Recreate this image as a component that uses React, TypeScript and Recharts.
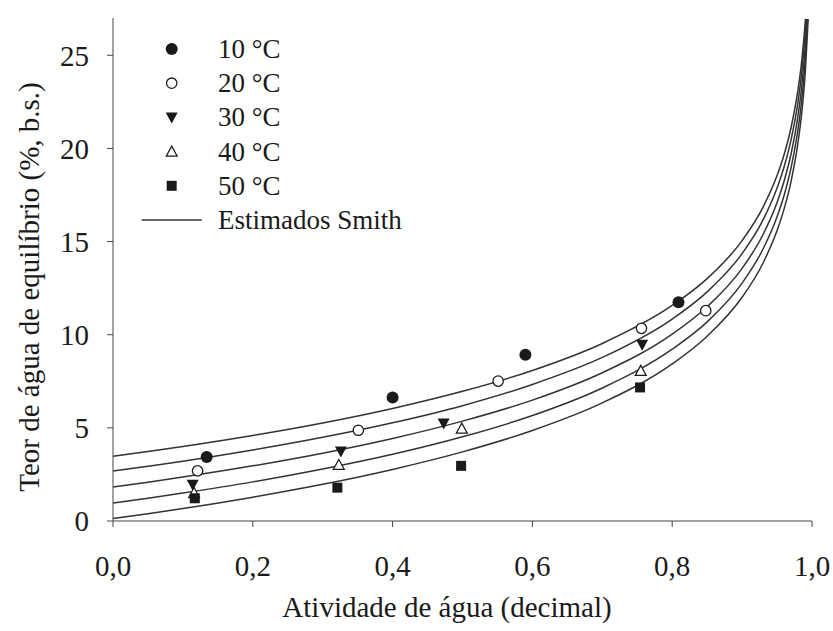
import React from 'react'
import { ComposedChart, Line, Scatter, XAxis, YAxis, Label, Legend } from 'recharts'

// observed points, one pair of arrays per temperature
const aw10 = [0.134, 0.4, 0.59, 0.809]
const teor10 = [3.44, 6.63, 8.92, 11.74]
const aw20 = [0.121, 0.351, 0.551, 0.756, 0.848]
const teor20 = [2.69, 4.87, 7.51, 10.34, 11.29]
const aw30 = [0.114, 0.326, 0.473, 0.757]
const teor30 = [1.94, 3.73, 5.23, 9.46]
const aw40 = [0.116, 0.323, 0.499, 0.755]
const teor40 = [1.5, 3.01, 4.96, 8.06]
const aw50 = [0.117, 0.321, 0.498, 0.754]
const teor50 = [1.22, 1.79, 2.96, 7.17]

// Smith curves (shared aw grid, one row per temperature)
const smithAw = [0, 0.05, 0.1, 0.2, 0.3, 0.4, 0.5, 0.6, 0.7, 0.8, 0.85, 0.9, 0.93, 0.95, 0.96, 0.97, 0.98, 0.985]
const smith10 = [3.47, 3.73, 4.0, 4.59, 5.26, 6.04, 6.96, 8.08, 9.53, 11.57, 13.01, 15.05, 16.85, 18.54, 19.66, 21.11, 23.15, 24.59]
const smith20 = [2.68, 2.94, 3.21, 3.81, 4.49, 5.27, 6.19, 7.33, 8.78, 10.84, 12.3, 14.35, 16.16, 17.87, 19.0, 20.46, 22.51, 23.97]
const smith30 = [1.82, 2.08, 2.36, 2.96, 3.64, 4.43, 5.36, 6.49, 7.96, 10.03, 11.5, 13.56, 15.38, 17.1, 18.24, 19.7, 21.77, 23.24]
const smith40 = [0.96, 1.22, 1.5, 2.1, 2.79, 3.58, 4.52, 5.66, 7.14, 9.22, 10.69, 12.77, 14.6, 16.33, 17.47, 18.95, 21.03, 22.5]
const smith50 = [0.13, 0.39, 0.67, 1.28, 1.97, 2.77, 3.71, 4.86, 6.34, 8.43, 9.92, 12.01, 13.85, 15.59, 16.74, 18.22, 20.32, 21.8]
// where each curve leaves the top of the frame
const smithTailAw = [
  [0.99, 0.9907],
  [0.99, 0.9917],
  [0.99, 0.9927],
  [0.99, 0.9937],
  [0.99, 0.9945],
]
const smithTailTeor = [
  [26.63, 26.95],
  [26.03, 26.95],
  [25.31, 26.95],
  [24.58, 26.95],
  [23.89, 26.95],
]

const xTicks = [0, 0.2, 0.4, 0.6, 0.8, 1]
const yTicks = [0, 5, 10, 15, 20, 25]

type MarkerKind = 'dot' | 'circle' | 'down' | 'up' | 'square' | 'line'

const series: { name: string; marker: MarkerKind; aw: number[]; teor: number[] }[] = [
  { name: '10 °C', marker: 'dot', aw: aw10, teor: teor10 },
  { name: '20 °C', marker: 'circle', aw: aw20, teor: teor20 },
  { name: '30 °C', marker: 'down', aw: aw30, teor: teor30 },
  { name: '40 °C', marker: 'up', aw: aw40, teor: teor40 },
  { name: '50 °C', marker: 'square', aw: aw50, teor: teor50 },
]
// open triangles go underneath the filled markers
const drawOrder = [3, 1, 0, 2, 4]

const curves = [smith10, smith20, smith30, smith40, smith50].map((vals, i) => [
  ...smithAw.map((aw, j) => ({ aw, teor: vals[j] })),
  ...smithTailAw[i].map((aw, j) => ({ aw, teor: smithTailTeor[i][j] })),
])

const FONT = '"Liberation Serif", "Times New Roman", serif'
const INK = '#1a1a1a'

function Marker({ kind, cx, cy }: { kind: MarkerKind; cx: number; cy: number }) {
  if (kind === 'dot') return <circle cx={cx} cy={cy} r={6} fill={INK} />
  if (kind === 'circle')
    return <circle cx={cx} cy={cy} r={5.2} fill="#fff" stroke={INK} strokeWidth={1.3} />
  if (kind === 'down')
    return <polygon points={`${cx - 6},${cy - 5} ${cx + 6},${cy - 5} ${cx},${cy + 6}`} fill={INK} />
  if (kind === 'up')
    return (
      <polygon
        points={`${cx - 5.5},${cy + 4.5} ${cx + 5.5},${cy + 4.5} ${cx},${cy - 5.5}`}
        fill="#fff"
        stroke={INK}
        strokeWidth={1.2}
      />
    )
  if (kind === 'square') return <rect x={cx - 5} y={cy - 5} width={10} height={10} fill={INK} />
  return <line x1={cx - 30} x2={cx + 30} y1={cy} y2={cy} stroke="#333" strokeWidth={1.4} />
}

function LegendBox() {
  const rows = [...series.map((s) => ({ label: s.name, kind: s.marker })), { label: 'Estimados Smith', kind: 'line' as MarkerKind }]
  return (
    <svg width={300} height={210}>
      {rows.map((r, i) => {
        const y = 17 + i * 34.2
        return (
          <g key={r.label}>
            <Marker kind={r.kind} cx={41.7} cy={y} />
            <text x={88} y={y + 9} fontFamily={FONT} fontSize={27} fill={INK}>
              {r.label}
            </text>
          </g>
        )
      })}
    </svg>
  )
}

const fmt = (v: number) => v.toFixed(1).replace('.', ',')

export default function App() {
  return (
    <div style={{ position: 'absolute', left: 0, top: 0, width: 833, height: 631, background: '#fff' }}>
      <ComposedChart width={833} height={631} margin={{ top: 18, right: 21, left: 13, bottom: 10 }}>
        <XAxis
          type="number"
          dataKey="aw"
          domain={[0, 1]}
          ticks={xTicks}
          tickFormatter={fmt}
          height={100}
          stroke="#444"
          tickSize={6}
          tickMargin={28}
          tick={{ fontFamily: FONT, fontSize: 29, fill: INK }}
        >
          <Label
            content={({ viewBox }: any) => (
              <text x={447} y={viewBox.y + 96} textAnchor="middle" fontFamily={FONT} fontSize={29} fill={INK}>
                Atividade de água (decimal)
              </text>
            )}
          />
        </XAxis>
        <YAxis
          type="number"
          domain={[0, 27]}
          ticks={yTicks}
          width={100}
          stroke="#444"
          tickSize={6}
          tickMargin={18}
          tick={{ fontFamily: FONT, fontSize: 29, fill: INK }}
        >
          <Label
            content={() => (
              <text
                x={39}
                y={287}
                transform="rotate(-90, 39, 287)"
                textAnchor="middle"
                fontFamily={FONT}
                fontSize={29}
                fill={INK}
              >
                Teor de água de equilíbrio (%, b.s.)
              </text>
            )}
          />
        </YAxis>
        <Legend
          layout="vertical"
          align="center"
          verticalAlign="middle"
          wrapperStyle={{ top: 32, left: 130, width: 300, height: 210 }}
          content={() => <LegendBox />}
        />
        {curves.map((c, i) => (
          <Line
            key={'smith' + i}
            data={c}
            dataKey="teor"
            type="monotone"
            stroke="#333"
            strokeWidth={1.5}
            dot={false}
            activeDot={false}
            isAnimationActive={false}
            legendType="none"
          />
        ))}
        {drawOrder.map((k) => {
          const s = series[k]
          return (
            <Scatter
              key={s.name}
              name={s.name}
              data={s.aw.map((aw, i) => ({ aw, teor: s.teor[i] }))}
              dataKey="teor"
              isAnimationActive={false}
              shape={(p: any) => <Marker kind={s.marker} cx={p.cx} cy={p.cy} />}
            />
          )
        })}
      </ComposedChart>
    </div>
  )
}
